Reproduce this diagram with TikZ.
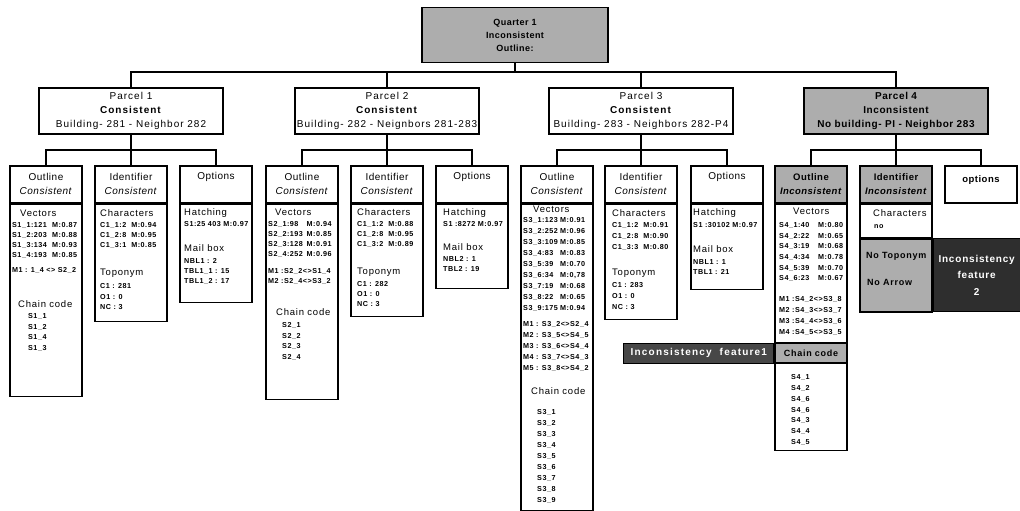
\documentclass[tikz,border=0pt]{standalone}
\usepackage{fontspec}
\setmainfont{Liberation Sans}
\newcommand\fs[2]{\fontsize{#1}{#2}\selectfont}
\newcommand\trk[1]{\addfontfeature{LetterSpace=#1}}
% two-column data row: left part padded to a fixed width
\newcommand\mcol[3]{\makebox[#1pt][l]{#2}#3}
% a list of data rows: name prefix, x, first y, pitch, entries
\newcommand\rows[5]{\foreach \t [count=\k] in {#5}{\node[datatxt] (#1\k) at (#2,{#3+(\k-1)*#4}) {\t};}}
\begin{document}
\begin{tikzpicture}[x=1pt,y=-1pt,
  frame/.style={draw=black, line width=1.5pt, inner sep=0pt},
  link/.style={draw=black, line width=1.2pt},
  shade/.style={fill=black!32},
  qbox/.style={frame, shade, minimum width=186pt, minimum height=55pt, anchor=north, align=center, font=\fs{9}{13}\bfseries\trk{5}},
  parcel/.style={frame, fill=white, minimum width=184pt, minimum height=46pt, anchor=north, align=center, font=\fs{10}{14}\trk{10}},
  hdr/.style={frame, fill=white, minimum width=72pt, minimum height=37pt, anchor=north, align=center, font=\fs{10}{14}\trk{5}},
  shdr/.style={hdr, shade, font=\fs{9.5}{14}\bfseries\trk{5}},
  hdrword/.style={inner sep=0pt, font=\fs{10}{14}\trk{5}},
  body/.style={frame, fill=white, minimum width=72pt, anchor=north},
  sect/.style={anchor=mid west, inner sep=0pt, font=\fs{9.5}{11}\trk{8}},
  datatxt/.style={anchor=mid west, inner sep=0pt, font=\fs{7.2}{8}\bfseries\trk{7}},
  boldtxt/.style={anchor=mid west, inner sep=0pt, font=\fs{9}{11}\bfseries\trk{8}},
  dark/.style={frame, line width=0.8pt, fill=black!72, text=white, align=center, font=\fs{10}{14}\bfseries\trk{12}},
]
\useasboundingbox (0,0) rectangle (1020,511);

% ---------- top level ----------
\node[qbox] (q) at (515,7) {Quarter 1\\Inconsistent\\Outline:};

\node[parcel] (p1) at (131,87) {Parcel 1\\\textbf{Consistent}\\Building- 281 - Neighbor 282};
\node[parcel] (p2) at (387,87) {Parcel 2\\\textbf{Consistent}\\Building- 282 - Neignbors 281-283};
\node[parcel] (p3) at (641,87) {Parcel 3\\\textbf{Consistent}\\Building- 283 - Neighbors 282-P4};
\node[parcel, shade, font=\fs{10}{14}\bfseries\trk{6}] (p4) at (896,87) {Parcel 4\\Inconsistent\\No building- PI - Neighbor 283};

\coordinate (qbus) at (515,72);
\draw[link] (q.south) -- (qbus);
\draw[link] (p1.north) |- (qbus) -| (p4.north);
\draw[link] (p2.north) -- (p2.north |- qbus);
\draw[link] (p3.north) -- (p3.north |- qbus);

% ---------- parcel 1 ----------
\node[hdr] (o1h) at (46,165) {Outline\\\textit{Consistent}};
\node[body, minimum height=192pt] (o1b) at (o1h.south) {};
\node[hdr] (i1h) at (131,165) {Identifier\\\textit{Consistent}};
\node[body, minimum height=117pt] (i1b) at (i1h.south) {};
\node[hdr] (op1h) at (216,165) {};
\node[hdrword] (op1t) at (216,177) {Options};
\node[body, minimum height=98pt] (op1b) at (op1h.south) {};
\coordinate (b1) at (131,150);
\draw[link] (p1.south) -- (b1);
\draw[link] (o1h.north) |- (b1) -| (op1h.north);
\draw[link] (i1h.north) -- (b1);

\node[sect] (o1v) at (20,214) {Vectors};
\rows{o1r}{12}{225}{10}{\mcol{40}{S1\_1:121}{M:0.87},\mcol{40}{S1\_2:203}{M:0.88},\mcol{40}{S1\_3:134}{M:0.93},\mcol{40}{S1\_4:193}{M:0.85}}
\node[datatxt] (o1m) at (12,270) {M1 : 1\_4 <> S2\_2};
\node[sect] (o1c) at (18,305) {Chain code};
\rows{o1s}{28}{316}{10.5}{S1\_1,S1\_2,S1\_4,S1\_3}

\node[sect] (i1c) at (100,214) {Characters};
\rows{i1r}{100}{225}{10}{C1\_1:2~~M:0.94,C1\_2:8~~M:0.95,C1\_3:1~~M:0.85}
\node[sect] (i1t) at (100,273) {Toponym};
\rows{i1n}{100}{286}{10.5}{C1 : 281,O1 : 0,NC : 3}

\node[sect] (op1a) at (184,213) {Hatching};
\node[datatxt] (op1s) at (184,224) {S1:25 403 M:0.97};
\node[sect] (op1m) at (184,249) {Mail box};
\rows{op1r}{184}{261}{10}{NBL1 : 2,TBL1\_1 : 15,TBL1\_2 : 17}

% ---------- parcel 2 ----------
\node[hdr] (o2h) at (302,165) {Outline\\\textit{Consistent}};
\node[body, minimum height=195pt] (o2b) at (o2h.south) {};
\node[hdr] (i2h) at (387,165) {Identifier\\\textit{Consistent}};
\node[body, minimum height=112pt] (i2b) at (i2h.south) {};
\node[hdr] (op2h) at (472,165) {};
\node[hdrword] (op2t) at (472,177) {Options};
\node[body, minimum height=84pt] (op2b) at (op2h.south) {};
\coordinate (b2) at (387,150);
\draw[link] (p2.south) -- (b2);
\draw[link] (o2h.north) |- (b2) -| (op2h.north);
\draw[link] (i2h.north) -- (b2);

\node[sect] (o2v) at (275,213) {Vectors};
\rows{o2r}{268}{224}{10}{\mcol{38.5}{S2\_1:98}{M:0.94},\mcol{38.5}{S2\_2:193}{M:0.85},\mcol{38.5}{S2\_3:128}{M:0.91},\mcol{38.5}{S2\_4:252}{M:0.96}}
\rows{o2m}{268}{271}{10}{M1 :S2\_2<>S1\_4,M2 :S2\_4<>S3\_2}
\node[sect] (o2c) at (276,313) {Chain code};
\rows{o2s}{282}{325}{10.5}{S2\_1,S2\_2,S2\_3,S2\_4}

\node[sect] (i2c) at (357,213) {Characters};
\rows{i2r}{357}{224}{10}{C1\_1:2~~M:0.88,C1\_2:8~~M:0.95,C1\_3:2~~M:0.89}
\node[sect] (i2t) at (357,272) {Toponym};
\rows{i2n}{357}{284}{10}{C1 : 282,O1 : 0,NC : 3}

\node[sect] (op2a) at (443,213) {Hatching};
\node[datatxt] (op2s) at (443,224) {S1 :8272 M:0.97};
\node[sect] (op2m) at (443,248) {Mail box};
\rows{op2r}{443}{259}{10}{NBL2 : 1,TBL2 : 19}

% ---------- parcel 3 ----------
\node[hdr] (o3h) at (557,165) {Outline\\\textit{Consistent}};
\node[body, minimum height=306pt] (o3b) at (o3h.south) {};
\node[hdr] (i3h) at (641,165) {Identifier\\\textit{Consistent}};
\node[body, minimum height=115pt] (i3b) at (i3h.south) {};
\node[hdr] (op3h) at (727,165) {};
\node[hdrword] (op3t) at (727,177) {Options};
\node[body, minimum height=85pt] (op3b) at (op3h.south) {};
\coordinate (b3) at (641,150);
\draw[link] (p3.south) -- (b3);
\draw[link] (o3h.north) |- (b3) -| (op3h.north);
\draw[link] (i3h.north) -- (b3);

\node[sect] (o3v) at (533,210) {Vectors};
\rows{o3r}{523}{220}{11}{\mcol{37}{S3\_1:123}{M:0.91},\mcol{37}{S3\_2:252}{M:0.96},\mcol{37}{S3\_3:109}{M:0.85},\mcol{37}{S3\_4:83}{M:0.83},\mcol{37}{S3\_5:39}{M:0.70},\mcol{37}{S3\_6:34}{M:0,78},\mcol{37}{S3\_7:19}{M:0.68},\mcol{37}{S3\_8:22}{M:0.65},\mcol{37}{S3\_9:175}{M:0.94}}
\rows{o3m}{523}{324}{11}{M1 : S3\_2<>S2\_4,M2 : S3\_5<>S4\_5,M3 : S3\_6<>S4\_4,M4 : S3\_7<>S4\_3,M5 : S3\_8<>S4\_2}
\node[sect] (o3c) at (531,392) {Chain code};
\rows{o3s}{537}{412}{11}{S3\_1,S3\_2,S3\_3,S3\_4,S3\_5,S3\_6,S3\_7,S3\_8,S3\_9}

\node[sect] (i3c) at (612,214) {Characters};
\rows{i3r}{612}{225}{11}{C1\_1:2~~M:0.91,C1\_2:8~~M:0.90,C1\_3:3~~M:0.80}
\node[sect] (i3t) at (612,273) {Toponym};
\rows{i3n}{612}{285}{11}{C1 : 283,O1 : 0,NC : 3}

\node[sect] (op3a) at (693,213) {Hatching};
\node[datatxt] (op3s) at (693,225) {S1 :30102 M:0.97};
\node[sect] (op3m) at (693,250) {Mail box};
\rows{op3r}{693}{262}{10}{NBL1 : 1,TBL1 : 21}

% ---------- parcel 4 ----------
\node[shdr] (o4h) at (811,165) {Outline\\\textit{Inconsistent}};
\node[body, minimum height=246pt] (o4b) at (o4h.south) {};
\node[shdr] (i4h) at (896,165) {Identifier\\\textit{Inconsistent}};
\node[body, minimum height=33pt] (i4b) at (i4h.south) {};
\node[hdr] (op4h) at (981,165) {};
\node[inner sep=0pt, font=\fs{9.5}{12}\bfseries\trk{5}] (op4t) at (981,180) {options};
\coordinate (b4) at (896,150);
\draw[link] (p4.south) -- (b4);
\draw[link] (o4h.north) |- (b4) -| (op4h.north);
\draw[link] (i4h.north) -- (b4);

\node[sect] (o4v) at (793,212) {Vectors};
\rows{o4r}{779}{225}{10.6}{\mcol{39}{S4\_1:40}{M:0.80},\mcol{39}{S4\_2:22}{M:0.65},\mcol{39}{S4\_3:19}{M:0.68},\mcol{39}{S4\_4:34}{M:0.78},\mcol{39}{S4\_5:39}{M:0.70},\mcol{39}{S4\_6:23}{M:0.67}}
\rows{o4m}{779}{299}{11}{M1 :S4\_2<>S3\_8,M2 :S4\_3<>S3\_7,M3 :S4\_4<>S3\_6,M4 :S4\_5<>S3\_5}
\node[frame, shade, minimum width=72pt, minimum height=20pt, font=\fs{9}{11}\bfseries\trk{8}] (o4c) at (811,353) {Chain code};
\rows{o4s}{791}{377}{10.8}{S4\_1,S4\_2,S4\_6,S4\_6,S4\_3,S4\_4,S4\_5}
\node[dark, anchor=east, minimum width=150pt, minimum height=20pt] (f1) at (o4c.west) {Inconsistency~~feature1};

\node[sect] (i4c) at (873,214) {Characters};
\node[datatxt] (i4no) at (874,226) {no};
\node[frame, shade, anchor=north, minimum width=72pt, minimum height=73pt] (i4n) at (i4b.south) {};
\node[boldtxt] (i4t) at (866,256) {No Toponym};
\node[boldtxt] (i4a) at (867,283) {No Arrow};
\node[dark, fill=black!82, anchor=north west, minimum width=87pt, minimum height=73pt, font=\fs{10}{16.5}\bfseries\trk{8}] (f2) at (i4n.north east) {Inconsistency\\feature\\2};
\end{tikzpicture}
\end{document}
